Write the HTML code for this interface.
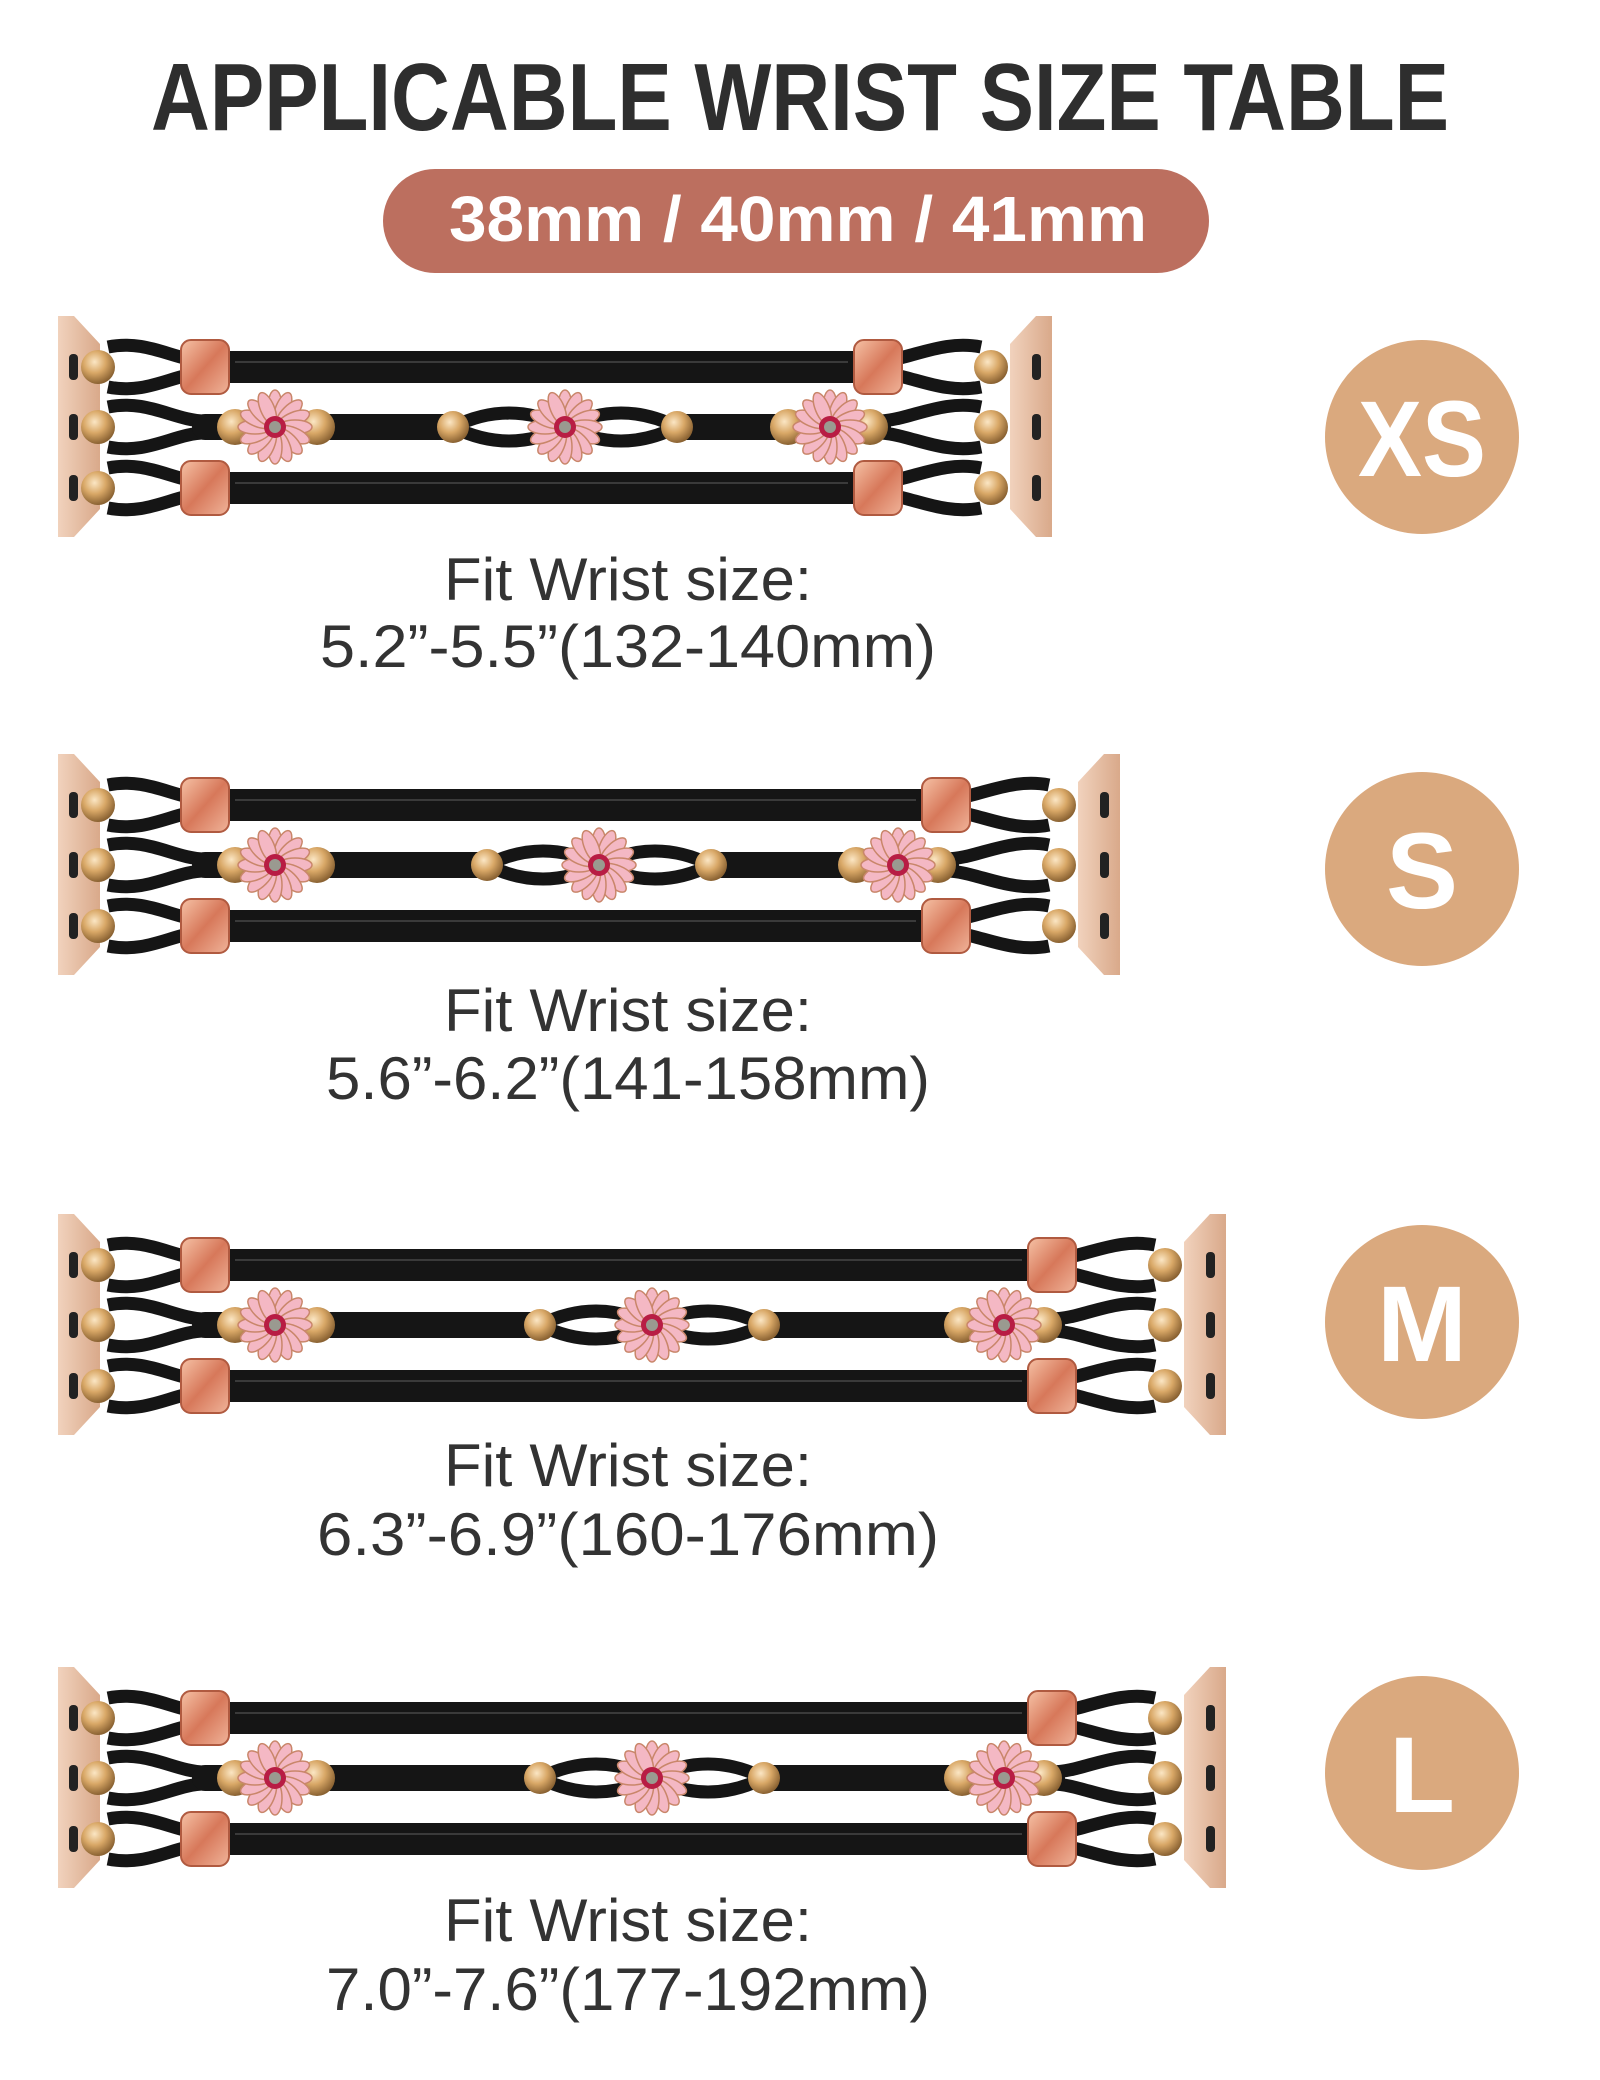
<!DOCTYPE html>
<html><head><meta charset="utf-8"><style>
html,body{margin:0;padding:0;background:#fff;width:1600px;height:2080px;overflow:hidden}
svg{display:block}
text{font-family:"Liberation Sans",sans-serif}
</style></head><body>
<svg id="s" width="1600" height="2080" viewBox="0 0 1600 2080" xmlns="http://www.w3.org/2000/svg">
<defs>
<radialGradient id="gold" cx="40%" cy="35%" r="65%"><stop offset="0" stop-color="#fbe6c4"/><stop offset="0.5" stop-color="#d9a867"/><stop offset="1" stop-color="#8a6232"/></radialGradient>
<linearGradient id="rose" x1="0" y1="0" x2="1" y2="1"><stop offset="0" stop-color="#f6c2a6"/><stop offset="0.5" stop-color="#d7785a"/><stop offset="1" stop-color="#f0b49a"/></linearGradient>
<linearGradient id="plate" x1="0" y1="0" x2="1" y2="0"><stop offset="0" stop-color="#f1d2bd"/><stop offset="1" stop-color="#d9a98a"/></linearGradient>
</defs>
<text x="800" y="130" text-anchor="middle" font-size="96" font-weight="bold" fill="#2e2e2e" textLength="1298" lengthAdjust="spacingAndGlyphs">APPLICABLE WRIST SIZE TABLE</text>
<rect x="383" y="169" width="826" height="104" rx="52" fill="#bc6f5f"/>
<text x="798" y="241" text-anchor="middle" font-size="64" font-weight="bold" fill="#fff" textLength="698" lengthAdjust="spacingAndGlyphs">38mm / 40mm / 41mm</text>
<g id="bands"></g>
<g fill="#daa97e"><circle cx="1422" cy="437" r="97"/><circle cx="1422" cy="869" r="97"/><circle cx="1422" cy="1322" r="97"/><circle cx="1422" cy="1773" r="97"/></g>
<g fill="#fff" font-weight="bold" font-size="108" text-anchor="middle">
<text x="1422" y="476" textLength="128" lengthAdjust="spacingAndGlyphs">XS</text>
<text x="1422" y="908">S</text>
<text x="1422" y="1361">M</text>
<text x="1422" y="1812">L</text>
</g>
<g fill="#333" font-size="60" text-anchor="middle">
<text x="628" y="600" textLength="368" lengthAdjust="spacingAndGlyphs">Fit Wrist size:</text>
<text x="628" y="667" textLength="616" lengthAdjust="spacingAndGlyphs">5.2”-5.5”(132-140mm)</text>
<text x="628" y="1031" textLength="368" lengthAdjust="spacingAndGlyphs">Fit Wrist size:</text>
<text x="628" y="1099" textLength="604" lengthAdjust="spacingAndGlyphs">5.6”-6.2”(141-158mm)</text>
<text x="628" y="1486" textLength="368" lengthAdjust="spacingAndGlyphs">Fit Wrist size:</text>
<text x="628" y="1555" textLength="622" lengthAdjust="spacingAndGlyphs">6.3”-6.9”(160-176mm)</text>
<text x="628" y="1941" textLength="368" lengthAdjust="spacingAndGlyphs">Fit Wrist size:</text>
<text x="628" y="2010" textLength="604" lengthAdjust="spacingAndGlyphs">7.0”-7.6”(177-192mm)</text>
</g>
</svg>
<script>
(function(){
var g=document.getElementById('bands'),h='';
function bead(x,y,r){return '<circle cx="'+x+'" cy="'+y+'" r="'+(r||17)+'" fill="url(#gold)"/>';}
function barrel(x,y){return '<rect x="'+(x-24)+'" y="'+(y-27)+'" width="48" height="54" rx="10" fill="url(#rose)" stroke="#b05a40" stroke-width="2"/>';}
function flower(x,y){var s='<g>';for(var i=0;i<16;i++){var a=i*22.5;s+='<ellipse cx="'+x+'" cy="'+(y-20)+'" rx="7" ry="17" fill="#f4b8c4" stroke="#c9866a" stroke-width="1.5" transform="rotate('+a+' '+x+' '+y+')"/>';}
s+='<circle cx="'+x+'" cy="'+y+'" r="11" fill="#b81d44"/><circle cx="'+x+'" cy="'+y+'" r="6" fill="#9a9a90"/></g>';return s;}
function cord(x1,y1,x2,y2,w){return '<line x1="'+x1+'" y1="'+y1+'" x2="'+x2+'" y2="'+y2+'" stroke="#151515" stroke-width="'+(w||30)+'" stroke-linecap="round"/>';}
function band(x0,x1,y0){
 var s='',rows=[y0+51,y0+111,y0+172],lb=x0+32,rb=x1-53,lbar=x0+139,rbar=x1-166,mid=(x0+x1)/2+10;
 // plates
 s+='<path d="M'+(x0-8)+' '+y0+' L'+(x0+8)+' '+y0+' L'+(x0+34)+' '+(y0+28)+' L'+(x0+34)+' '+(y0+193)+' L'+(x0+8)+' '+(y0+221)+' L'+(x0-8)+' '+(y0+221)+'Z" fill="url(#plate)"/>';
 s+='<path d="M'+(x1+8)+' '+y0+' L'+(x1-8)+' '+y0+' L'+(x1-34)+' '+(y0+28)+' L'+(x1-34)+' '+(y0+193)+' L'+(x1-8)+' '+(y0+221)+' L'+(x1+8)+' '+(y0+221)+'Z" fill="url(#plate)"/>';
 for(var k=0;k<3;k++){var y=rows[k];
  s+='<rect x="'+(x0+3)+'" y="'+(y-13)+'" width="9" height="26" rx="4" fill="#222"/><rect x="'+(x1-12)+'" y="'+(y-13)+'" width="9" height="26" rx="4" fill="#222"/>';
  // loops
  s+='<path d="M'+(lb+10)+' '+(y-20)+' C'+(lb+50)+' '+(y-28)+' '+(lbar-30)+' '+(y-6)+' '+lbar+' '+(y-6)+' M'+(lb+10)+' '+(y+20)+' C'+(lb+50)+' '+(y+28)+' '+(lbar-30)+' '+(y+6)+' '+lbar+' '+(y+6)+'" stroke="#151515" stroke-width="13" fill="none"/>';
  s+='<path d="M'+(rb-10)+' '+(y-20)+' C'+(rb-50)+' '+(y-28)+' '+(rbar+30)+' '+(y-6)+' '+rbar+' '+(y-6)+' M'+(rb-10)+' '+(y+20)+' C'+(rb-50)+' '+(y+28)+' '+(rbar+30)+' '+(y+6)+' '+rbar+' '+(y+6)+'" stroke="#151515" stroke-width="13" fill="none"/>';
  if(k!=1){s+=cord(lbar,y,rbar,y,32);s+='<line x1="'+(lbar+30)+'" y1="'+(y-5)+'" x2="'+(rbar-30)+'" y2="'+(y-5)+'" stroke="#3a3a3a" stroke-width="2"/>';s+=barrel(lbar,y)+barrel(rbar,y);}
  else{
   var f1=x0+209,f3=x1-214,sb1=mid-112,sb2=mid+112;
   s+=cord(lbar,y,sb1,y,26)+cord(sb2,y,rbar,y,26);
   s+='<path d="M'+sb1+' '+y+' Q'+((sb1+mid)/2)+' '+(y-28)+' '+mid+' '+y+' Q'+((sb2+mid)/2)+' '+(y-28)+' '+sb2+' '+y+' M'+sb1+' '+y+' Q'+((sb1+mid)/2)+' '+(y+28)+' '+mid+' '+y+' Q'+((sb2+mid)/2)+' '+(y+28)+' '+sb2+' '+y+'" stroke="#151515" stroke-width="13" fill="none"/>';
   s+=bead(f1-40,y,18)+bead(f1+42,y,18)+bead(f3-42,y,18)+bead(f3+40,y,18)+bead(sb1,y,16)+bead(sb2,y,16);
   s+=flower(f1,y)+flower(mid,y)+flower(f3,y);
  }
  s+=bead(lb,y,17)+bead(rb,y,17);
 }
 return s;}
h+=band(66,1044,316)+band(66,1112,754)+band(66,1218,1214)+band(66,1218,1667);
g.innerHTML=h;
})();
</script>
</body></html>
